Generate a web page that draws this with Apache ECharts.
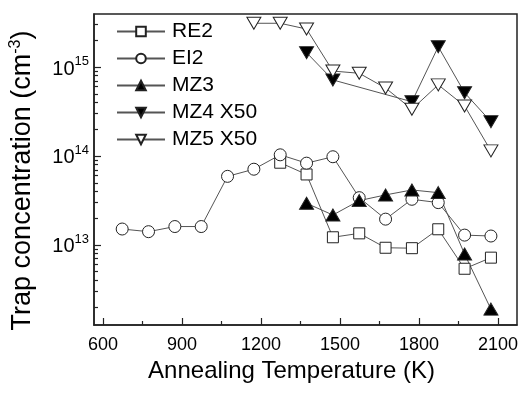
<!DOCTYPE html>
<html><head><meta charset="utf-8">
<script src="https://cdn.jsdelivr.net/npm/echarts@6/dist/echarts.min.js"></script>
<style>html,body{margin:0;padding:0;background:#fff}#c{width:522px;height:393px}</style>
</head><body><div id="c"></div>
<script>
// Data
const temps = [673, 773, 873, 973, 1073, 1173, 1273, 1373, 1473, 1573, 1673, 1773, 1873, 1973, 2073];
const re2 = [null, null, null, null, null, null, 8.4e13, 6.2e13, 1.22e13, 1.35e13, 9.3e12, 9.2e12, 1.5e13, 5.4e12, 7.2e12];
const ei2 = [1.51e13, 1.41e13, 1.61e13, 1.61e13, 5.9e13, 7.1e13, 1.03e14, 8.3e13, 9.8e13, 3.4e13, 1.95e13, 3.26e13, 2.99e13, 1.29e13, 1.26e13];
const mz3 = [null, null, null, null, null, null, null, 2.94e13, 2.17e13, 3.15e13, 3.65e13, 4.15e13, 3.87e13, 7.9e12, 1.9e12];
const mz4 = [null, null, null, null, null, null, null, 1.45e15, 7.15e14, null, null, 4.07e14, 1.69e15, 5.14e14, 2.43e14];
const mz5 = [null, null, null, null, null, 3.1e15, 3.1e15, 2.67e15, 9.0e14, 8.5e14, 5.8e14, 3.35e14, 6.3e14, 3.65e14, 1.14e14];
const seriesNames = ['RE2', 'EI2', 'MZ3', 'MZ4 X50', 'MZ5 X50'];
const xMajor = [600, 900, 1200, 1500, 1800, 2100];
const xMinor = [750, 1050, 1350, 1650, 1950];
const yMajor = [1e13, 1e14, 1e15];
const yMinor = [2e12,3e12,4e12,5e12,6e12,7e12,8e12,9e12,2e13,3e13,4e13,5e13,6e13,7e13,8e13,9e13,2e14,3e14,4e14,5e14,6e14,7e14,8e14,9e14,2e15,3e15];

const FONT = 'Liberation Sans';
function pairs(arr){ const out=[]; arr.forEach((v,i)=>{ if(v!==null) out.push([temps[i], v]); }); return out; }
const styles = [
  {symbol:'rect', size:[11,11], fill:'#fff'},
  {symbol:'circle', size:12, fill:'#fff'},
  {symbol:'triangle', size:[14,12], fill:'#000'},
  {symbol:'triangle', size:[14,12], fill:'#000'},
  {symbol:'triangle', size:[14,12], fill:'#fff'}
];
const datas = [re2, ei2, mz3, mz4, mz5];
const series = seriesNames.map((n,i)=>({
  name:n, type:'line', data:pairs(datas[i]), connectNulls:false,
  symbol: styles[i].symbol,
  symbolRotate: i>=3 ? 180 : 0,
  symbolSize: styles[i].size,
  showAllSymbol:true,
  lineStyle:{color:'#555', width:1},
  itemStyle:{color:styles[i].fill, borderColor:'#222', borderWidth:1},
  z: 3
}));

const chart = echarts.init(document.getElementById('c'), null, {renderer:'canvas'});
chart.setOption({
  animation:false,
  backgroundColor:'#fff',
  textStyle:{fontFamily:FONT},
  grid:{left:94, right:5, top:14, bottom:68, show:true, borderColor:'#222', borderWidth:1.5, backgroundColor:'transparent'},
  legend:{
    orient:'vertical', left:111, top:16, itemWidth:48, itemHeight:12, itemGap:6,
    textStyle:{fontSize:21, color:'#000', fontFamily:FONT, lineHeight:21, padding:[0,0,0,2]},
    data: seriesNames
  },
  xAxis:[{
    type:'value', min:566, max:2172, position:'bottom',
    axisLine:{show:true, lineStyle:{color:'#222', width:1.5}},
    axisTick:{show:true, inside:true, length:7, customValues:xMajor, lineStyle:{color:'#222', width:1.2}},
    axisLabel:{customValues:xMajor, fontSize:18, color:'#000', margin:11, fontFamily:FONT, formatter: v => String(v)},
    splitLine:{show:false},
    name:'Annealing Temperature (K)', nameLocation:'middle', nameGap:34,
    nameTextStyle:{fontSize:24, color:'#000', fontFamily:FONT, padding:[0,28,0,0]}
  },{
    type:'value', min:566, max:2172, position:'bottom',
    axisLine:{show:false},
    axisTick:{show:true, inside:true, length:4, customValues:xMinor, lineStyle:{color:'#222', width:1.2}},
    axisLabel:{show:false}, splitLine:{show:false}
  }],
  yAxis:[{
    type:'log', logBase:10, min:1.26e12, max:3.94e15, position:'left',
    axisLine:{show:true, lineStyle:{color:'#222', width:1.5}},
    axisTick:{show:true, inside:true, length:7, customValues:yMajor, lineStyle:{color:'#222', width:1.2}},
    axisLabel:{customValues:yMajor, margin:5, color:'#000',
      formatter: v => '{b|10}{s|' + Math.round(Math.log10(v)) + '}',
      rich:{b:{fontSize:20, fontFamily:FONT, color:'#000', lineHeight:24, verticalAlign:'bottom'},
            s:{fontSize:13, fontFamily:FONT, color:'#000', lineHeight:13, verticalAlign:'top'}}},
    splitLine:{show:false}, minorTick:{show:false},
    name:'Trap concentration (cm{s|-3})', nameLocation:'middle', nameGap:56, nameRotate:90,
    nameTextStyle:{fontSize:27, color:'#000', fontFamily:FONT, padding:[0,22,0,0], lineHeight:30,
      rich:{s:{fontSize:16, fontFamily:FONT, color:'#000', lineHeight:16, verticalAlign:'top'}}}
  },{
    type:'log', logBase:10, min:1.26e12, max:3.94e15, position:'left',
    axisLine:{show:false},
    axisTick:{show:true, inside:true, length:4, customValues:yMinor, lineStyle:{color:'#222', width:1.2}},
    axisLabel:{show:false}, splitLine:{show:false}
  }],
  series: series
});
</script></body></html>
